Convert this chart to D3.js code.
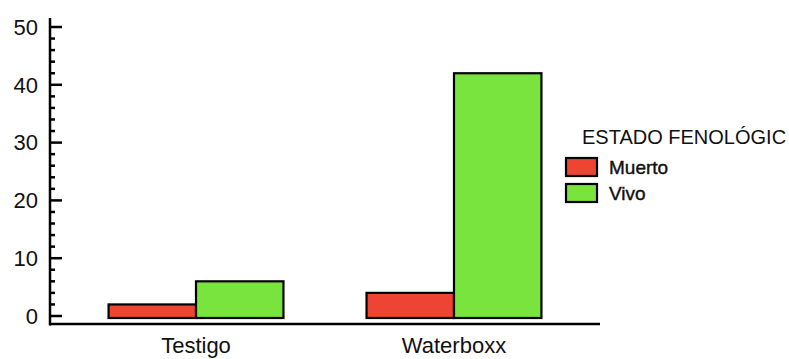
<!DOCTYPE html>
<html>
<head>
<meta charset="utf-8">
<script src="https://cdn.jsdelivr.net/npm/d3@7"></script>
<style>
  html, body { margin: 0; padding: 0; background: #fff; }
  svg { display: block; font-family: "Liberation Sans", Arial, sans-serif; }
</style>
</head>
<body>
<svg id="chart" width="789" height="359"></svg>
<script>
const categories = ["Testigo", "Waterboxx"];
const seriesNames = ["Muerto", "Vivo"];
const muerto = [2, 4];
const vivo = [6, 42];
const yTicks = [0, 10, 20, 30, 40, 50];
const legendTitle = "ESTADO FENOLÓGIC";
const colors = ["#ee4433", "#7ae43e"];

const svg = d3.select("#chart");
const mLeft = 50, mRight = 600, mTop = 18, mBottom = 324;

const y = d3.scaleLinear().domain([0, 50]).range([316, 27]);
const x = d3.scaleBand().domain(categories).range([mLeft, mRight])
  .paddingInner(0.322).paddingOuter(0.227);
const xs = d3.scaleBand().domain(seriesNames).range([0, x.bandwidth()]);
const values = [muerto, vivo];

// bars
const g = svg.append("g");
categories.forEach((c, i) => {
  seriesNames.forEach((s, j) => {
    const v = values[j][i];
    g.append("rect")
      .attr("x", x(c) + xs(s))
      .attr("y", y(v))
      .attr("width", xs.bandwidth())
      .attr("height", y(0) - y(v) + 2)
      .attr("fill", colors[j])
      .attr("stroke", "#000")
      .attr("stroke-width", 2.2);
  });
});

// y axis: minor ticks
const minor = d3.range(0, 51, 2).filter(v => v % 10 !== 0);
svg.append("g").selectAll("line").data(minor).join("line")
  .attr("x1", mLeft).attr("x2", mLeft + 5)
  .attr("y1", d => y(d)).attr("y2", d => y(d))
  .attr("stroke", "#000").attr("stroke-width", 2.5);
svg.append("g").selectAll("line").data(yTicks).join("line")
  .attr("x1", mLeft).attr("x2", mLeft + 12)
  .attr("y1", d => y(d)).attr("y2", d => y(d))
  .attr("stroke", "#000").attr("stroke-width", 2.5);
svg.append("g").selectAll("text").data(yTicks).join("text")
  .attr("x", 38).attr("y", d => y(d))
  .attr("dy", "0.35em")
  .attr("text-anchor", "end")
  .attr("font-size", 22)
  .attr("fill", "#111")
  .text(d => d);

// axis lines
svg.append("line").attr("x1", mLeft).attr("x2", mLeft).attr("y1", mTop).attr("y2", mBottom + 1.5)
  .attr("stroke", "#000").attr("stroke-width", 2.5);
svg.append("line").attr("x1", mLeft).attr("x2", mRight).attr("y1", mBottom).attr("y2", mBottom)
  .attr("stroke", "#000").attr("stroke-width", 2.5);

// category labels
svg.append("g").selectAll("text").data(categories).join("text")
  .attr("x", d => x(d) + x.bandwidth() / 2)
  .attr("y", 353)
  .attr("text-anchor", "middle")
  .attr("font-size", 22)
  .attr("fill", "#111")
  .text(d => d);

// legend
const lg = svg.append("g");
lg.append("text").attr("x", 582).attr("y", 144)
  .attr("font-size", 20).attr("fill", "#111").text(legendTitle);
seriesNames.forEach((s, j) => {
  lg.append("rect")
    .attr("x", 566).attr("y", 158 + j * 26)
    .attr("width", 31).attr("height", 18)
    .attr("fill", colors[j]).attr("stroke", "#000").attr("stroke-width", 2.2);
  lg.append("text").attr("x", 609).attr("y", 174 + j * 26)
    .attr("font-size", 19).attr("fill", "#111")
    .attr("stroke", "#111").attr("stroke-width", 0.4)
    .text(s);
});
</script>
</body>
</html>
